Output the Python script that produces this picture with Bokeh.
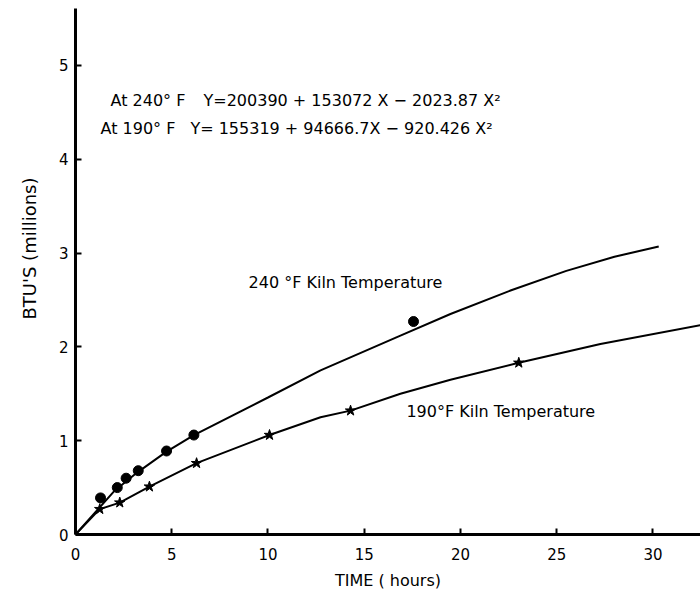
from bokeh.plotting import figure
from bokeh.models import FixedTicker, Label, Range1d, Title
from bokeh.embed import file_html
from bokeh.resources import INLINE

# ---- data ----
x_ticks = [0, 5, 10, 15, 20, 25, 30]
y_ticks = [0, 1, 2, 3, 4, 5]

obs240_x = [1.3, 2.17, 2.63, 3.26, 4.73, 6.15, 17.56]
obs240_y = [0.39, 0.50, 0.60, 0.68, 0.89, 1.06, 2.27]

obs190_x = [1.26, 2.3, 3.84, 6.29, 10.08, 14.29, 23.03]
obs190_y = [0.27, 0.34, 0.51, 0.76, 1.06, 1.32, 1.83]

curve240_x = [0, 2.0, 3.2, 4.71, 6.15, 10.0, 12.73, 16.88, 19.48, 22.6, 25.5, 28.0, 30.3]
curve240_y = [0, 0.46, 0.66, 0.88, 1.06, 1.46, 1.75, 2.12, 2.35, 2.60, 2.81, 2.96, 3.07]

curve190_x = [0, 1.26, 2.3, 3.84, 6.29, 10.08, 12.73, 14.29, 16.88, 19.48, 23.03, 27.27, 32.47]
curve190_y = [0, 0.27, 0.34, 0.51, 0.76, 1.06, 1.25, 1.32, 1.50, 1.65, 1.83, 2.03, 2.23]

eq240_head = "At 240° F"
eq240_body = "Y=200390 + 153072 X − 2023.87 X²"
eq190_head = "At 190° F"
eq190_body = "Y=  155319 +  94666.7X − 920.426 X²"
lab240 = "240 °F  Kiln Temperature"
lab190 = "190°F  Kiln Temperature"
x_title = "TIME ( hours)"
y_title = "BTU'S  (millions)"

FONT = "DejaVu Sans"

p = figure(width=700, height=592, output_backend="svg", toolbar_location=None,
           x_range=Range1d(0, 32.47), y_range=Range1d(0, 5.606),
           min_border_left=75, min_border_right=0, min_border_top=8,
           min_border_bottom=57)
p.outline_line_color = None
p.grid.grid_line_color = None
p.background_fill_color = "white"
p.border_fill_color = "white"

for ax in (p.xaxis[0], p.yaxis[0]):
    ax.axis_line_width = 3
    ax.axis_line_color = "black"
    ax.major_tick_in = 6
    ax.major_tick_out = 0
    ax.major_tick_line_width = 2
    ax.minor_tick_line_color = None
    ax.major_label_text_font = FONT
    ax.major_label_text_font_size = "15px"
    ax.major_label_text_color = "black"
    ax.axis_label_text_font = FONT
    ax.axis_label_text_font_size = "16px"
    ax.axis_label_text_font_style = "normal"
    ax.axis_label_text_color = "black"

p.xaxis.ticker = FixedTicker(ticks=x_ticks)
p.yaxis.ticker = FixedTicker(ticks=y_ticks)
p.xaxis.axis_label = x_title
p.xaxis.major_label_standoff = 13
p.yaxis.major_label_standoff = 7
p.xaxis.axis_label_standoff = 8

ytitle = Title(text=y_title, align="left", offset=215, text_font=FONT,
               text_font_size="18px", text_font_style="normal", text_color="black",
               standoff=31)
p.add_layout(ytitle, "left")

p.line(curve240_x, curve240_y, line_color="black", line_width=2)
p.line(curve190_x, curve190_y, line_color="black", line_width=2)
p.scatter(obs240_x, obs240_y, marker="circle", size=10, fill_color="black", line_color="black")
p.scatter(obs190_x, obs190_y, marker="star", size=11, fill_color="black", line_color="black")

common = dict(text_font=FONT, text_font_size="16px", text_color="black", text_baseline="alphabetic")
p.add_layout(Label(x=1.82, y=4.63, text=eq240_head, **common))
p.add_layout(Label(x=6.65, y=4.63, text=eq240_body, **common))
p.add_layout(Label(x=1.30, y=4.33, text=eq190_head, **common))
p.add_layout(Label(x=5.97, y=4.33, text=eq190_body, **common))
p.add_layout(Label(x=8.99, y=2.69, text=lab240, **common))
p.add_layout(Label(x=17.19, y=1.31, text=lab190, **common))

open("out.html", "w").write(file_html(p, INLINE))
